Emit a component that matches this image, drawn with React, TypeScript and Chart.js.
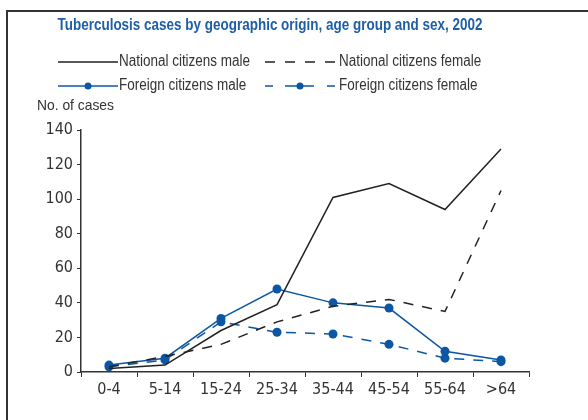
import React, { useEffect, useRef } from "react";
import { Chart, registerables } from "chart.js";

Chart.register(...registerables);

const categories = ["0-4", "5-14", "15-24", "25-34", "35-44", "45-54", "55-64", ">64"];
const nationalMale = [2, 4, 24, 39, 101, 109, 94, 129];
const nationalFemale = [3, 9, 16, 29, 38, 42, 35, 105];
const foreignMale = [4, 8, 31, 48, 40, 37, 12, 7];
const foreignFemale = [3, 7, 29, 23, 22, 16, 8, 6];
const yTicks = [0, 20, 40, 60, 80, 100, 120, 140];

const titleText = "Tuberculosis cases by geographic origin, age group and sex, 2002";
const yAxisTitle = "No. of cases";
const legendLabels = [
  "National citizens male",
  "National citizens female",
  "Foreign citizens male",
  "Foreign citizens female",
];

const FONT = "'DejaVu Sans Condensed', 'Liberation Sans', Arial, sans-serif";
const TEXT_FONT = "'Liberation Sans', Arial, sans-serif";
const BLUE = "#0b57a4";
const TITLE_BLUE = "#1d5ea8";
const BLACK = "#222222";
const TEXT = "#333333";

function narrowText(ctx: CanvasRenderingContext2D, text: string, x: number, y: number, sx: number, align: CanvasTextAlign) {
  ctx.save();
  ctx.translate(x, y);
  ctx.scale(sx, 1);
  ctx.textAlign = align;
  ctx.fillText(text, 0, 0);
  ctx.restore();
}

const decorPlugin = {
  id: "decor",
  afterDraw(chart: any) {
    const ctx: CanvasRenderingContext2D = chart.ctx;
    ctx.save();
    // frame
    ctx.strokeStyle = "#333";
    ctx.lineWidth = 2;
    ctx.setLineDash([]);
    ctx.beginPath();
    ctx.moveTo(7, 421);
    ctx.lineTo(7, 11);
    ctx.lineTo(590, 11);
    ctx.stroke();

    ctx.textBaseline = "middle";
    // title
    ctx.fillStyle = TITLE_BLUE;
    ctx.font = `bold 17px ${TEXT_FONT}`;
    const tsx = 425 / ctx.measureText(titleText).width;
    narrowText(ctx, titleText, 270, 25, tsx, "center");

    // y axis title
    ctx.fillStyle = TEXT;
    ctx.font = `15px ${TEXT_FONT}`;
    const ysx = 77 / ctx.measureText(yAxisTitle).width;
    narrowText(ctx, yAxisTitle, 37, 106, ysx, "left");

    // legend
    ctx.font = `16px ${TEXT_FONT}`;
    const row1 = 62;
    const row2 = 86;
    const sx = 131 / ctx.measureText(legendLabels[0]).width;
    // national male
    ctx.strokeStyle = BLACK;
    ctx.lineWidth = 1.5;
    ctx.beginPath();
    ctx.moveTo(58, row1);
    ctx.lineTo(118, row1);
    ctx.stroke();
    ctx.fillStyle = TEXT;
    narrowText(ctx, legendLabels[0], 119, row1, sx, "left");
    // national female
    ctx.setLineDash([10, 10]);
    ctx.beginPath();
    ctx.moveTo(265, row1);
    ctx.lineTo(336, row1);
    ctx.stroke();
    ctx.setLineDash([]);
    narrowText(ctx, legendLabels[1], 339, row1, sx, "left");
    // foreign male
    ctx.strokeStyle = BLUE;
    ctx.beginPath();
    ctx.moveTo(58, row2);
    ctx.lineTo(118, row2);
    ctx.stroke();
    ctx.fillStyle = BLUE;
    ctx.beginPath();
    ctx.arc(88, row2, 3.5, 0, Math.PI * 2);
    ctx.fill();
    ctx.fillStyle = TEXT;
    narrowText(ctx, legendLabels[2], 119, row2, sx, "left");
    // foreign female
    ctx.strokeStyle = BLUE;
    ctx.beginPath();
    ctx.moveTo(265, row2);
    ctx.lineTo(273, row2);
    ctx.moveTo(285, row2);
    ctx.lineTo(314, row2);
    ctx.moveTo(327, row2);
    ctx.lineTo(335, row2);
    ctx.stroke();
    ctx.fillStyle = BLUE;
    ctx.beginPath();
    ctx.arc(300, row2, 3.5, 0, Math.PI * 2);
    ctx.fill();
    ctx.fillStyle = TEXT;
    narrowText(ctx, legendLabels[3], 339, row2, sx, "left");
    ctx.restore();
  },
};

export default function App() {
  const ref = useRef<HTMLCanvasElement>(null);
  useEffect(() => {
    if (!ref.current) return;
    const chart = new Chart(ref.current, {
      type: "line",
      data: {
        labels: categories,
        datasets: [
          {
            label: legendLabels[0],
            data: nationalMale,
            borderColor: BLACK,
            borderWidth: 1.5,
            pointRadius: 0,
            tension: 0,
          },
          {
            label: legendLabels[1],
            data: nationalFemale,
            borderColor: BLACK,
            borderWidth: 1.5,
            borderDash: [10, 9],
            pointRadius: 0,
            tension: 0,
          },
          {
            label: legendLabels[2],
            data: foreignMale,
            borderColor: BLUE,
            backgroundColor: BLUE,
            borderWidth: 1.5,
            pointRadius: 4.5,
            pointBackgroundColor: BLUE,
            pointBorderWidth: 0,
            tension: 0,
          },
          {
            label: legendLabels[3],
            data: foreignFemale,
            borderColor: BLUE,
            backgroundColor: BLUE,
            borderWidth: 1.5,
            borderDash: [10, 9],
            pointRadius: 4.5,
            pointBackgroundColor: BLUE,
            pointBorderWidth: 0,
            tension: 0,
          },
        ],
      },
      options: {
        animation: false,
        responsive: false,
        maintainAspectRatio: false,
        layout: { padding: { left: 0, top: 130, right: 59, bottom: 0 } },
        plugins: {
          legend: { display: false },
          title: { display: false },
          tooltip: { enabled: false },
        },
        scales: {
          x: {
            offset: true,
            grid: {
              offset: true,
              drawOnChartArea: false,
              drawTicks: true,
              tickLength: 5,
              color: "#333",
            },
            border: { display: true, color: "#333", width: 1.5 },
            ticks: {
              color: TEXT,
              font: { family: FONT, size: 16 },
              padding: 3,
              maxRotation: 0,
              autoSkip: false,
            },
            afterFit: (scale: any) => {
              scale.height = 48;
            },
          },
          y: {
            min: 0,
            max: 140,
            afterBuildTicks: (scale: any) => {
              scale.ticks = yTicks.map((v) => ({ value: v }));
            },
            grid: {
              drawOnChartArea: false,
              drawTicks: true,
              tickLength: 4,
              color: "#333",
            },
            border: { display: true, color: "#333", width: 1.5 },
            ticks: {
              color: TEXT,
              font: { family: FONT, size: 16 },
              padding: 4,
            },
            afterFit: (scale: any) => {
              scale.width = 81;
            },
          },
        },
      },
      plugins: [decorPlugin],
    });
    return () => chart.destroy();
  }, []);
  return (
    <div style={{ position: "fixed", left: 0, top: 0, width: 588, height: 420, background: "#fff" }}>
      <canvas ref={ref} width={588} height={420} style={{ width: 588, height: 420 }} />
    </div>
  );
}
